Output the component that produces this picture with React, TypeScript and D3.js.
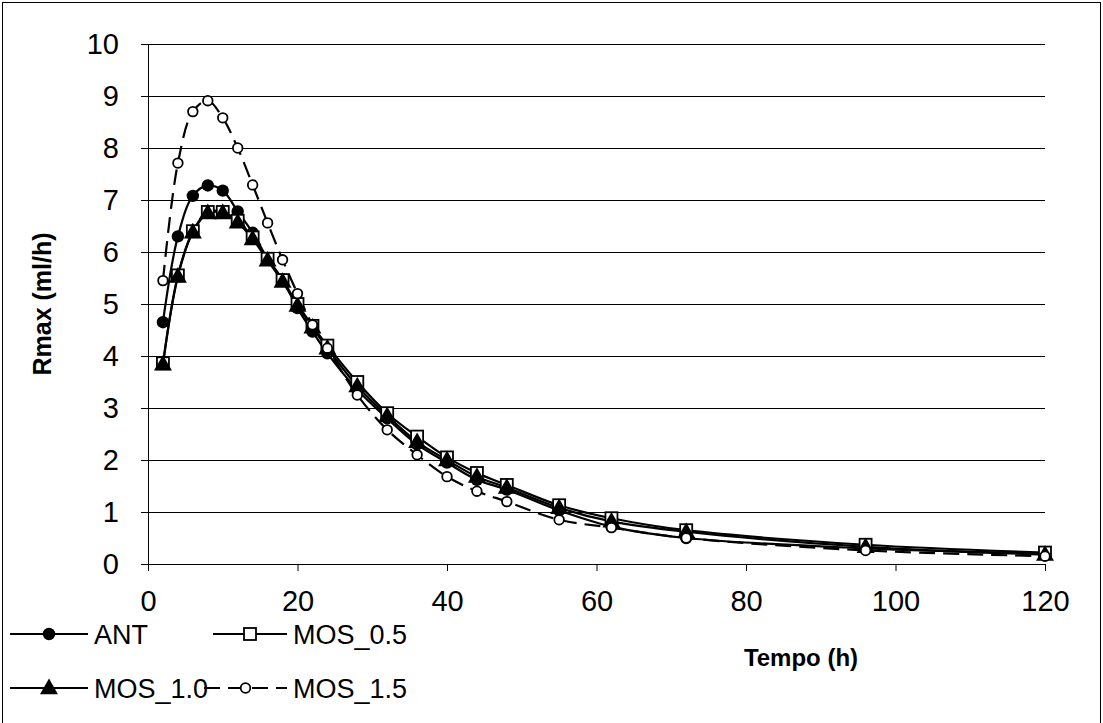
import React, { useEffect, useRef } from "react";
import * as d3 from "d3";

const hours = [2, 4, 6, 8, 10, 12, 14, 16, 18, 20, 22, 24, 28, 32, 36, 40, 44, 48, 55, 62, 72, 96, 120];

const ant = [4.65, 6.3, 7.08, 7.28, 7.18, 6.78, 6.37, 5.87, 5.47, 4.92, 4.47, 4.05, 3.35, 2.8, 2.3, 1.95, 1.62, 1.43, 1.03, 0.72, 0.5, 0.3, 0.2];
const mos05 = [3.86, 5.55, 6.4, 6.77, 6.77, 6.6, 6.28, 5.87, 5.46, 5.0, 4.58, 4.2, 3.5, 2.9, 2.45, 2.05, 1.75, 1.52, 1.13, 0.88, 0.65, 0.37, 0.22];
const mos10 = [3.84, 5.53, 6.38, 6.75, 6.75, 6.57, 6.25, 5.84, 5.43, 4.97, 4.55, 4.15, 3.42, 2.85, 2.35, 2.0, 1.68, 1.47, 1.08, 0.82, 0.62, 0.33, 0.18];
const mos15 = [5.45, 7.71, 8.7, 8.91, 8.58, 8.0, 7.29, 6.56, 5.85, 5.2, 4.6, 4.15, 3.25, 2.58, 2.1, 1.68, 1.4, 1.2, 0.85, 0.7, 0.5, 0.26, 0.15];

const seriesNames = ["ANT", "MOS_0.5", "MOS_1.0", "MOS_1.5"];
const xTicks = [0, 20, 40, 60, 80, 100, 120];
const yTicks = [0, 1, 2, 3, 4, 5, 6, 7, 8, 9, 10];

const FONT = "'Liberation Sans', Arial, sans-serif";

type Shape = "dot" | "square" | "triangle" | "ring";

function drawMarker(g: any, shape: Shape, x: number, y: number) {
  if (shape === "dot") {
    g.append("circle").attr("cx", x).attr("cy", y).attr("r", 6.2).attr("fill", "#000");
  } else if (shape === "square") {
    g.append("rect")
      .attr("x", x - 6).attr("y", y - 6)
      .attr("width", 12).attr("height", 12)
      .attr("fill", "#fff").attr("stroke", "#000").attr("stroke-width", 1.8);
  } else if (shape === "triangle") {
    g.append("path")
      .attr("d", d3.symbol().type(d3.symbolTriangle).size(140)())
      .attr("transform", `translate(${x},${y + 1})`)
      .attr("fill", "#000");
  } else {
    g.append("circle").attr("cx", x).attr("cy", y).attr("r", 4.8)
      .attr("fill", "#fff").attr("stroke", "#000").attr("stroke-width", 1.8);
  }
}

export default function App() {
  const svgRef = useRef<SVGSVGElement>(null);

  useEffect(() => {
    const svg = d3.select(svgRef.current);
    svg.selectAll("*").remove();

    const width = 1103;
    const height = 723;

    const x = d3.scaleLinear().domain([0, 120]).range([148, 1045]);
    const y = d3.scaleLinear().domain([0, 10]).range([564, 44]);

    // outer frame
    svg.append("rect")
      .attr("x", 2.5).attr("y", 2.5)
      .attr("width", width - 5).attr("height", height + 10)
      .attr("fill", "#fff").attr("stroke", "#000").attr("stroke-width", 1);

    // gridlines
    svg.append("g")
      .selectAll("line")
      .data(yTicks.filter((d) => d > 0))
      .enter()
      .append("line")
      .attr("x1", x(0)).attr("x2", x(120))
      .attr("y1", (d) => Math.round(y(d)) + 0.5).attr("y2", (d) => Math.round(y(d)) + 0.5)
      .attr("stroke", "#000").attr("stroke-width", 1);

    // y axis
    const yAxis = svg.append("g")
      .attr("transform", `translate(${x(0)},0)`)
      .call(d3.axisLeft(y).tickValues(yTicks).tickSize(7).tickPadding(22).tickFormat(d3.format("d")));
    yAxis.select(".domain").attr("stroke", "#000").attr("d", `M0.5,${y(10)}V${y(0)}`);
    yAxis.selectAll(".tick line").attr("stroke", "#000");
    yAxis.selectAll("text").style("font-family", FONT).style("font-size", "29px").attr("fill", "#000");

    // x axis
    const xAxis = svg.append("g")
      .attr("transform", `translate(0,${y(0)})`)
      .call(d3.axisBottom(x).tickValues(xTicks).tickSize(7).tickPadding(19).tickFormat(d3.format("d")));
    xAxis.select(".domain").attr("stroke", "#000").attr("d", `M${x(0)},0.5H${x(120)}`);
    xAxis.selectAll(".tick line").attr("stroke", "#000");
    xAxis.selectAll("text").style("font-family", FONT).style("font-size", "29px").attr("fill", "#000");

    const allSeries: { name: string; values: number[]; shape: Shape; dash: string | null }[] = [
      { name: seriesNames[0], values: ant, shape: "dot", dash: null },
      { name: seriesNames[1], values: mos05, shape: "square", dash: null },
      { name: seriesNames[2], values: mos10, shape: "triangle", dash: null },
      { name: seriesNames[3], values: mos15, shape: "ring", dash: "16,8" },
    ];

    const line = d3.line<number>()
      .x((d, i) => x(hours[i]))
      .y((d) => y(d))
      .curve(d3.curveCatmullRom.alpha(0.5));

    allSeries.forEach((s) => {
      svg.append("path")
        .datum(s.values)
        .attr("d", line)
        .attr("fill", "none")
        .attr("stroke", "#000")
        .attr("stroke-width", 2.2)
        .attr("stroke-dasharray", s.dash);
    });

    allSeries.forEach((s) => {
      const mg = svg.append("g");
      s.values.forEach((v, i) => drawMarker(mg, s.shape, x(hours[i]), y(v)));
    });

    // axis titles
    svg.append("text")
      .attr("transform", `translate(51,${(y(0) + y(10)) / 2}) rotate(-90)`)
      .attr("text-anchor", "middle")
      .style("font-family", FONT).style("font-size", "25px").style("font-weight", "bold")
      .text("Rmax (ml/h)");

    svg.append("text")
      .attr("x", 801).attr("y", 666)
      .attr("text-anchor", "middle")
      .style("font-family", FONT).style("font-size", "24px").style("font-weight", "bold")
      .text("Tempo (h)");

    // legend
    const legendPos = [
      { lx: 10, row: 634 },
      { lx: 213, row: 634 },
      { lx: 10, row: 688 },
      { lx: 213, row: 688 },
    ];
    allSeries.forEach((s, i) => {
      const p = legendPos[i];
      const lg = svg.append("g");
      const x0 = i === 3 ? 204 : p.lx;
      const x1 = i % 2 === 0 ? 88 : 287;
      lg.append("line")
        .attr("x1", x0).attr("x2", x1)
        .attr("y1", p.row).attr("y2", p.row)
        .attr("stroke", "#000").attr("stroke-width", 2.2)
        .attr("stroke-dasharray", s.dash);
      drawMarker(lg, s.shape, (x0 + x1) / 2, p.row);
      lg.append("text")
        .attr("x", x1 + 6).attr("y", p.row)
        .attr("dy", "0.36em")
        .style("font-family", FONT).style("font-size", "27px")
        .text(s.name);
    });
  }, []);

  return (
    <div style={{ position: "absolute", left: 0, top: 0, width: 1103, height: 723, overflow: "hidden" }}>
      <svg ref={svgRef} width={1103} height={723} style={{ display: "block" }}></svg>
    </div>
  );
}
